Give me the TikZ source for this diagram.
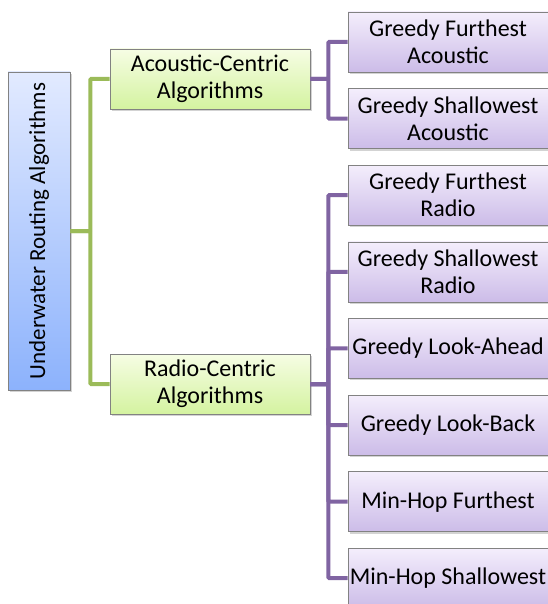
\documentclass[tikz,border=0pt]{standalone}
\usepackage{fontspec}
\setmainfont{Carlito}
\usepackage{tikz}
\usetikzlibrary{positioning, shadows}
\definecolor{roottop}{RGB}{226,234,255}
\definecolor{rootbot}{RGB}{140,178,252}
\definecolor{grntop}{RGB}{246,253,228}
\definecolor{grnbot}{RGB}{212,243,160}
\definecolor{purtop}{RGB}{244,238,252}
\definecolor{purbot}{RGB}{204,188,232}
\definecolor{grnline}{RGB}{155,187,89}
\definecolor{purline}{RGB}{128,100,162}
\definecolor{boxline}{RGB}{130,130,130}
\tikzset{
  rootbox/.style={rectangle, draw=boxline, top color=roottop, bottom color=rootbot,
    minimum width=318pt, minimum height=62pt, rotate=90,
    font=\fontsize{23}{27}\selectfont, line width=0.6pt,
    drop shadow={shadow xshift=2pt, shadow yshift=-2pt, opacity=0.35}},
  catbox/.style={rectangle, draw=boxline, top color=grntop, bottom color=grnbot,
    minimum width=200pt, minimum height=60pt, align=center, inner sep=1pt,
    font=\fontsize{24}{27}\selectfont, line width=0.6pt,
    drop shadow={shadow xshift=2pt, shadow yshift=-2pt, opacity=0.35}},
  leafbox/.style={rectangle, draw=boxline, top color=purtop, bottom color=purbot,
    minimum width=200pt, minimum height=60pt, align=center, inner sep=0.5pt,
    font=\fontsize{24}{27}\selectfont, line width=0.6pt,
    drop shadow={shadow xshift=2pt, shadow yshift=-2pt, opacity=0.35}},
  greenline/.style={line width=4pt, color=grnline, rounded corners=1pt},
  purpleline/.style={line width=4pt, color=purline, rounded corners=1pt}
}
\begin{document}
\begin{tikzpicture}[x=1pt, y=1pt, node distance=16pt]
  \useasboundingbox (0,0) rectangle (547,-604);
  % Root
  \node[rootbox] (root) at (39,-231) {Underwater Routing Algorithms\hspace{16pt}};

  % Categories
  \node[catbox] (acu) at (210,-79) {Acoustic-Centric\\Algorithms};
  \node[catbox] (rad) at (210,-384) {Radio-Centric\\Algorithms};

  % Acoustic leaves
  \node[leafbox] (gfa) at (448,-42) {Greedy Furthest\\Acoustic};
  \node[leafbox, below=of gfa] (gsa) {Greedy Shallowest\\Acoustic};

  % Radio leaves
  \node[leafbox, below=of gsa] (gfr) {Greedy Furthest\\Radio};
  \node[leafbox, below=of gfr] (gsr) {Greedy Shallowest\\Radio};
  \node[leafbox, below=of gsr] (gla) {Greedy Look-Ahead};
  \node[leafbox, below=of gla] (glb) {Greedy Look-Back};
  \node[leafbox, below=of glb] (mhf) {Min-Hop Furthest};
  \node[leafbox, below=of mhf] (mhs) {Min-Hop Shallowest};

  \draw[greenline] (root.south) -- ++(20pt,0) |- (acu.west);
  \draw[greenline] (root.south) -- ++(20pt,0) |- (rad.west);

  \foreach \leaf in {gfa,gsa}
    \draw[purpleline] (acu.east) -- ++(18pt,0) |- (\leaf.west);
  \foreach \leaf in {gfr,gsr,gla,glb,mhf,mhs}
    \draw[purpleline] (rad.east) -- ++(18pt,0) |- (\leaf.west);
\end{tikzpicture}
\end{document}
